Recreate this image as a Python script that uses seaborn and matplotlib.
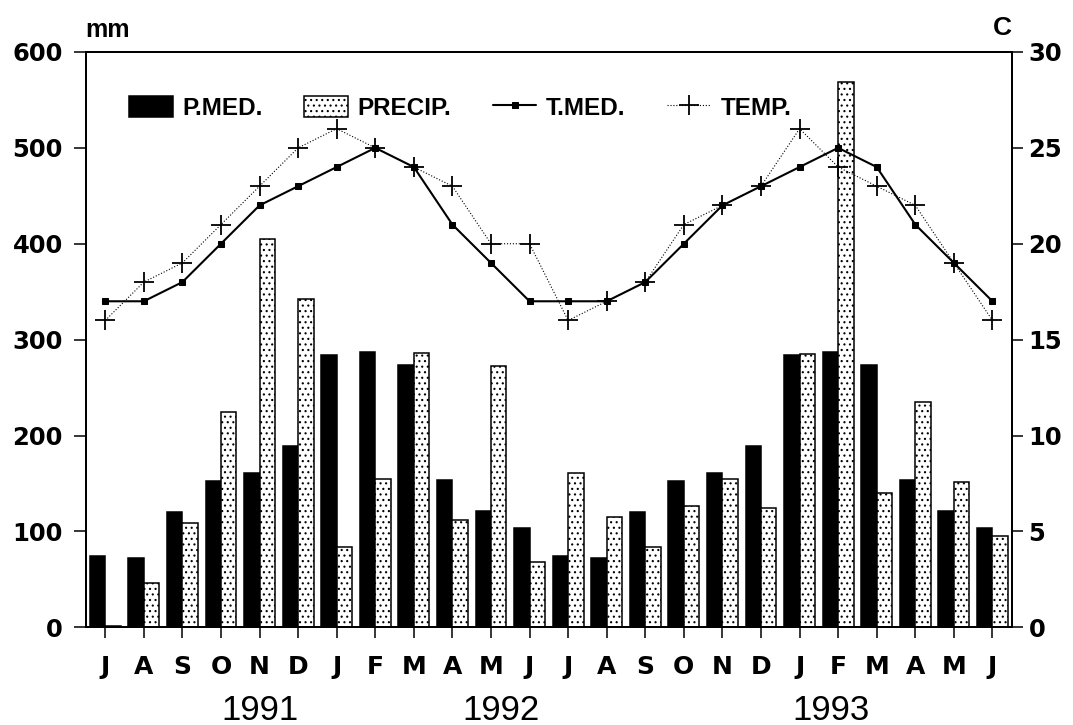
import matplotlib
matplotlib.use("Agg")
import matplotlib.pyplot as plt
from matplotlib.font_manager import FontProperties
import numpy as np
import pandas as pd
import seaborn as sns

# Months from July 1991 to June 1993
months = ["J", "A", "S", "O", "N", "D", "J", "F", "M", "A", "M", "J",
          "J", "A", "S", "O", "N", "D", "J", "F", "M", "A", "M", "J"]
years = ["1991", "1992", "1993"]
year_pos = [4.0, 10.26, 18.82]

# Precipitation (mm): long-term monthly mean and observed
p_med = [74, 72, 120, 153, 161, 189, 284, 287, 274, 154, 121, 104,
         74, 72, 120, 153, 161, 189, 284, 287, 274, 154, 121, 104]
precip = [1, 46, 109, 225, 405, 342, 84, 155, 286, 112, 272, 68,
          161, 115, 84, 127, 155, 124, 285, 569, 140, 235, 151, 95]

# Temperature (C): long-term monthly mean and observed
t_med = [17, 17, 18, 20, 22, 23, 24, 25, 24, 21, 19, 17,
         17, 17, 18, 20, 22, 23, 24, 25, 24, 21, 19, 17]
temp = [16, 18, 19, 21, 23, 25, 26, 25, 24, 23, 20, 20,
        16, 17, 18, 21, 22, 23, 26, 24, 23, 22, 19, 16]

pos = list(range(len(months)))
bars = pd.DataFrame({
    "pos": pos * 2,
    "value": p_med + precip,
    "series": ["P.MED."] * len(pos) + ["PRECIP."] * len(pos),
})

sns.set_style("ticks")
plt.rcParams["font.family"] = ["DejaVu Sans"]
plt.rcParams["font.weight"] = "bold"
plt.rcParams["text.color"] = "black"
plt.rcParams["xtick.color"] = "black"
plt.rcParams["ytick.color"] = "black"
plt.rcParams["hatch.linewidth"] = 0.8
plt.rcParams["axes.linewidth"] = 1.4
plt.rcParams["axes.edgecolor"] = "black"

fig = plt.figure(figsize=(10.73, 7.25), dpi=100)
ax = fig.add_axes([0.0801, 0.1348, 0.8628, 0.7935])

sns.barplot(data=bars, x="pos", y="value", hue="series",
            hue_order=["P.MED.", "PRECIP."], palette=["black", "white"],
            edgecolor="black", linewidth=1.1, width=0.8, saturation=1,
            legend=False, ax=ax)
for patch in ax.containers[1].patches:
    patch.set_hatch("...")

ax.set_xlim(-0.5, 23.5)
ax.set_ylim(0, 600)
ax.set_yticks(range(0, 601, 100))
ax.set_xticks(pos)
ax.set_xticklabels(months)
ax.set_xlabel("")
ax.set_ylabel("")
ax.tick_params(axis="y", direction="out", length=8.6, width=1.1, pad=8,
               labelsize=17.5, colors="black")
ax.tick_params(axis="x", direction="out", length=8, width=1.1, pad=12,
               labelsize=18, colors="black")
for side in ["top", "right", "left", "bottom"]:
    ax.spines[side].set_visible(True)
    ax.spines[side].set_color("black")

ax2 = ax.twinx()
sns.lineplot(x=pos, y=t_med, ax=ax2, color="black", linewidth=1.5,
             marker="s", markersize=4.5, markeredgecolor="black",
             label="T.MED.", legend=False)
sns.lineplot(x=pos, y=temp, ax=ax2, color="black", linewidth=0.8,
             linestyle=":", marker="+", markersize=15,
             markeredgewidth=1.3, markeredgecolor="black",
             label="TEMP.", legend=False)
ax2.set_ylim(0, 30)
ax2.set_yticks(range(0, 31, 5))
ax2.set_xlim(-0.5, 23.5)
ax2.set_ylabel("")
ax2.tick_params(axis="y", direction="out", length=8, width=1.1, pad=4,
                labelsize=17.5, colors="black")
ax2.spines["right"].set_visible(True)
ax2.spines["right"].set_color("black")
ax2.spines["top"].set_visible(True)

lab_font = FontProperties(family="Liberation Sans", weight="bold", size=17.5)
handles = [ax.containers[0], ax.containers[1]] + ax2.get_lines()[:2]
labels = ["P.MED.", "PRECIP.", "T.MED.", "TEMP."]
ax2.legend(handles, labels, loc="center left",
           bbox_to_anchor=(0.0465, 0.9027), ncol=4, frameon=False,
           handlelength=1.8, handleheight=0.93, handletextpad=0.4,
           columnspacing=1.7, borderpad=0, borderaxespad=0, prop=lab_font,
           labelcolor="black")

# Axis unit captions
fig.text(85 / 1073, 1 - 37 / 725, "mm",
         fontproperties=FontProperties(family="Liberation Sans",
                                       weight="bold", size=18),
         ha="left", va="baseline", color="black")
fig.text(1012 / 1073, 1 - 35 / 725, "C",
         fontproperties=FontProperties(family="Liberation Sans",
                                       weight="bold", size=19),
         ha="right", va="baseline", color="black")

# Year captions under the month letters
year_font = FontProperties(family="Liberation Sans", weight="normal", size=25)
trans = matplotlib.transforms.blended_transform_factory(ax.transData,
                                                        fig.transFigure)
for x, yr in zip(year_pos, years):
    fig.text(x, 5 / 725, yr, transform=trans, fontproperties=year_font,
             ha="center", va="baseline", color="black")

fig.savefig("out.png", dpi=100)
